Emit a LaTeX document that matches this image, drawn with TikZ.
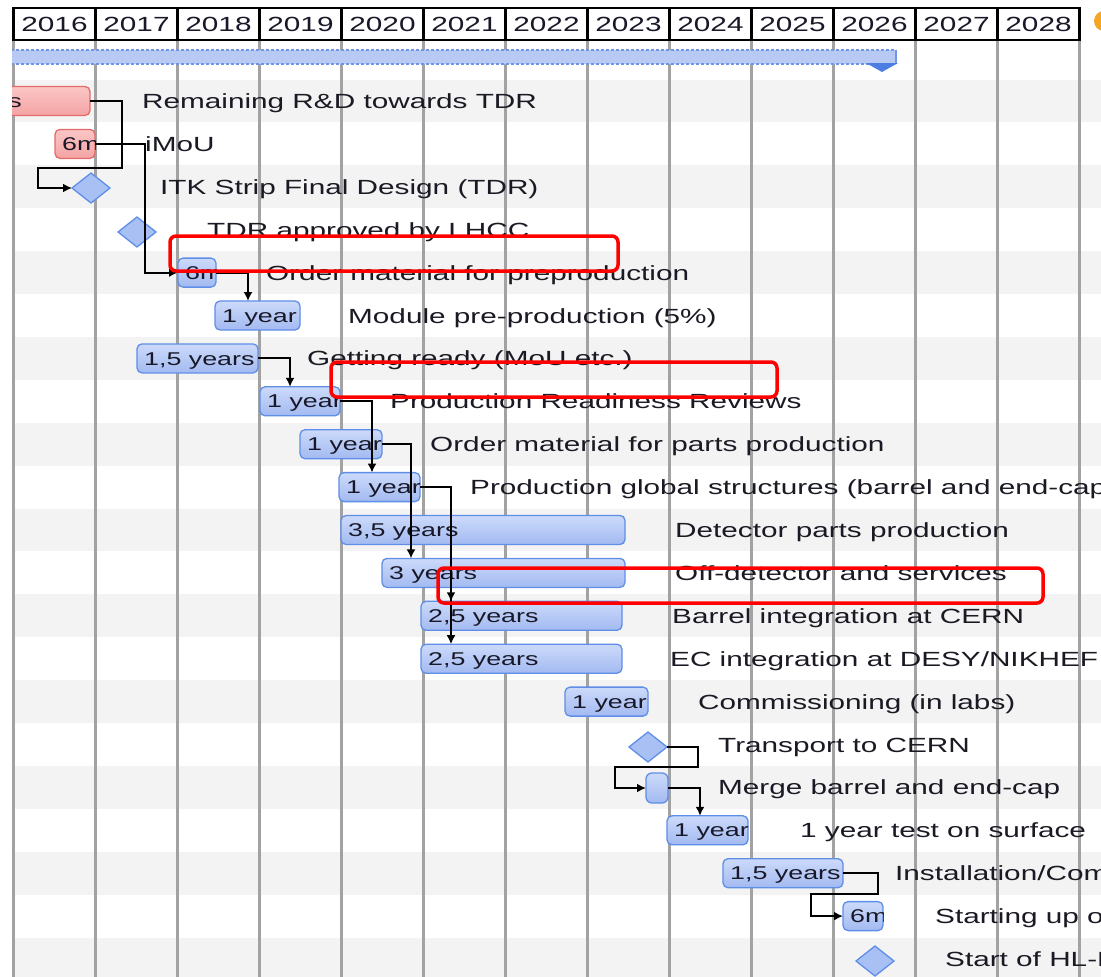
\documentclass[tikz,border=0pt]{standalone}
\usepackage{fontspec}
\newfontfamily\gf[FakeStretch=1.45]{Liberation Sans}
\usetikzlibrary{shapes.geometric,arrows.meta,calc}
\definecolor{rowgray}{HTML}{F3F3F3}
\definecolor{gridgray}{HTML}{A2A2A2}
\definecolor{barblue}{HTML}{5F8EE8}
\definecolor{bartop}{HTML}{CCDAFA}
\definecolor{barbot}{HTML}{A3BAF1}
\definecolor{msfill}{HTML}{A9C0F5}
\definecolor{redline}{HTML}{E46A6A}
\definecolor{redtop}{HTML}{FBC6C6}
\definecolor{redbot}{HTML}{F4A3A3}
\definecolor{taskcol}{HTML}{1A1A24}
\definecolor{labcol}{HTML}{181828}
\definecolor{sumfill}{HTML}{B8CAF3}
\definecolor{sumline}{HTML}{6F96E6}
\definecolor{sumtri}{HTML}{4C7DE0}
\definecolor{orangedot}{HTML}{F5A623}
\tikzset{
  bluebar/.style={draw=barblue, line width=1.3pt, rounded corners=5pt, top color=bartop, bottom color=barbot, minimum height=29pt, inner sep=0pt, outer sep=0pt},
  redbar/.style={draw=redline, line width=1.3pt, rounded corners=5pt, top color=redtop, bottom color=redbot, minimum height=29pt, inner sep=0pt, outer sep=0pt},
  ms/.style={diamond, draw=barblue, fill=msfill, line width=1.3pt, minimum width=38pt, minimum height=30pt, inner sep=0pt, outer sep=0pt},
  task/.style={anchor=base west, inner sep=0pt, font=\gf\fontsize{20.5}{24}\selectfont, text=taskcol},
  blab/.style={anchor=base west, inner sep=0pt, font=\gf\fontsize{18.5}{21}\selectfont, text=labcol},
  yearlab/.style={anchor=base, inner sep=0pt, font=\gf\fontsize{20.5}{24}\selectfont, text=labcol},
  conn/.style={draw=black, line width=2pt, -{Latex[length=9pt,width=9pt]}},
  hl/.style={draw=red, line width=3.5pt, rounded corners=6pt},
  gridl/.style={draw=gridgray, line width=2.6pt},
}
\newcommand\gbar[6]{%
  \node[#5, minimum width={#3-#2}, anchor=west] (#1) at (#2,#4) {};
  \begin{scope}
    \clip[rounded corners=5pt] (#1.south west) rectangle (#1.north east);
    \node[blab] (#1l) at ([xshift=7pt,yshift=-6.6pt]#1.west) {#6};
  \end{scope}}
\begin{document}
\begin{tikzpicture}[x=1pt,y=-1pt]
\useasboundingbox (0,0) rectangle (1101,977);
\fill[white] (0,0) rectangle (1101,977);
\begin{scope}
\clip (12,0) rectangle (1101,977);
% row shading
\foreach \k in {1,3,...,21}
  \fill[rowgray] (0,{101+(\k-1)*42.9-21.45}) rectangle (1101,{101+(\k-1)*42.9+21.45});
% grid
\foreach \i in {0,...,13}
  \draw[gridl] ({13.5+82*\i},40) -- ({13.5+82*\i},977);
% header
\fill[white] (13.5,8) rectangle (1079.5,40);
\foreach \i in {0,...,13}
  \draw[black, line width=2.4pt] ({13.5+82*\i},8) -- ({13.5+82*\i},40);
\draw[black, line width=2.4pt] (12.3,8) -- (1080.7,8);
\draw[black, line width=2.4pt] (12.3,40) -- (1080.7,40);
\foreach \y [count=\i from 0] in {2016,2017,2018,2019,2020,2021,2022,2023,2024,2025,2026,2027,2028}
  \node[yearlab] (y\y) at ({13.5+82*\i+41},31) {\y};
\fill[orangedot] (1104,21) circle (10);
% summary bar
\fill[sumfill] (11,50) rectangle (896,64);
\draw[sumline, line width=1.4pt, densely dashed] (11,50) -- (896,50);
\draw[sumline, line width=1.4pt, densely dashed] (11,64) -- (896,64);
\draw[sumline, line width=1.4pt] (896,50) -- (896,64);
\fill[sumtri] (866,63) -- (898,63) -- (882,72) -- cycle;
% bars
\node[redbar, minimum width=170, anchor=west] (r1) at (-80,101) {};
\begin{scope}
  \clip[rounded corners=5pt] (r1.south west) rectangle (r1.north east);
  \node[blab, anchor=base east] (r1l) at (22,107.6) {years};
\end{scope}
\gbar{r2}{55}{95}{143.9}{redbar}{6m}
\node[ms] (d3) at (91,188) {};
\node[ms] (d4) at (137,232) {};
\gbar{b5}{178}{216}{272.6}{bluebar}{6m}
\gbar{b6}{215}{300}{315.5}{bluebar}{1 year}
\gbar{b7}{137}{258}{358.4}{bluebar}{1,5 years}
\gbar{b8}{260}{340}{401.3}{bluebar}{1 year}
\gbar{b9}{300}{382}{444.2}{bluebar}{1 year}
\gbar{b10}{339}{420}{487.1}{bluebar}{1 year}
\gbar{b11}{341}{625}{530}{bluebar}{3,5 years}
\gbar{b12}{382}{625}{572.9}{bluebar}{3 years}
\gbar{b13}{421}{622}{615.8}{bluebar}{2,5 years}
\gbar{b14}{421}{622}{658.7}{bluebar}{2,5 years}
\gbar{b15}{565}{648}{701.6}{bluebar}{1 year}
\node[ms] (d16) at (648,747) {};
\node[bluebar, minimum width=22, minimum height=30, rounded corners=6pt, anchor=west] (m17) at (646,788) {};
\gbar{b18}{667}{748}{830.3}{bluebar}{1 year}
\gbar{b19}{723}{843}{873.2}{bluebar}{1,5 years}
\gbar{b20}{843}{883}{916.1}{bluebar}{6m}
\node[ms] (d21) at (875,961) {};
% connectors
\coordinate (k1) at (122,168);
\coordinate (k2) at (38,168);
\draw[conn] (r1.east) -| (k1) -- (k2) |- (d3.west);
\coordinate (k3) at (145,143.9);
\draw[conn] (r2.east) -- (k3) |- (b5.west);
\coordinate (e6) at ($(b6.north west)+(33,0)$);
\draw[conn] (b5.east) -| (e6);
\coordinate (e8) at ($(b8.north west)+(30,0)$);
\draw[conn] (b7.east) -| (e8);
\coordinate (e10) at ($(b10.north west)+(33,0)$);
\draw[conn] (b8.east) -| (e10);
\coordinate (e12) at ($(b12.north west)+(29,0)$);
\draw[conn] (b9.east) -| (e12);
\coordinate (e13) at ($(b13.north west)+(30,0)$);
\coordinate (e14) at ($(b14.north west)+(30,0)$);
\draw[conn] (b10.east) -| (e14);
\draw[conn] (b10.east) -| (e13);
\coordinate (k4) at (698,767);
\coordinate (k5) at (615,767);
\draw[conn] (d16.east) -| (k4) -- (k5) |- (m17.west);
\coordinate (e18) at ($(b18.north west)+(33,0)$);
\draw[conn] (m17.east) -| (e18);
\coordinate (k6) at (878,894);
\coordinate (k7) at (811,894);
\draw[conn] (b19.east) -| (k6) -- (k7) |- (b20.west);
% task texts
\node[task] (t1) at (142,108.5) {Remaining R\&D towards TDR};
\node[task] (t2) at (145,151.4) {iMoU};
\node[task] (t3) at (160,194.3) {ITK Strip Final Design (TDR)};
\node[task] (t4) at (207,237.2) {TDR approved by LHCC};
\node[task] (t5) at (266,280.1) {Order material for preproduction};
\node[task] (t6) at (348,323) {Module pre-production (5\%)};
\node[task] (t7) at (307,365.4) {Getting ready (MoU etc.)};
\node[task] (t8) at (390,408.8) {Production Readiness Reviews};
\node[task] (t9) at (430,451.2) {Order material for parts production};
\node[task] (t10) at (470,494.6) {Production global structures (barrel and end-cap};
\node[task] (t11) at (675,537.5) {Detector parts production};
\node[task] (t12) at (675,580.4) {Off-detector and services};
\node[task] (t13) at (672,623.3) {Barrel integration at CERN};
\node[task] (t14) at (670,666.2) {EC integration at DESY/NIKHEF};
\node[task] (t15) at (698,709.1) {Commissioning (in labs)};
\node[task] (t16) at (718,752) {Transport to CERN};
\node[task] (t17) at (718,794.9) {Merge barrel and end-cap};
\node[task] (t18) at (800,837.8) {1 year test on surface};
\node[task] (t19) at (895,880.7) {Installation/Comm};
\node[task] (t20) at (935,923.6) {Starting up o};
\node[task] (t21) at (945,966.5) {Start of HL-L};
% highlight boxes
\draw[hl] (170,236) rectangle (618,271);
\draw[hl] (331,362) rectangle (777,397);
\draw[hl] (438,568) rectangle (1043,603);
\end{scope}
\end{tikzpicture}
\end{document}
